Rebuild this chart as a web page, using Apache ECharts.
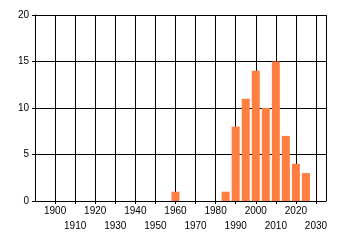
<!DOCTYPE html>
<html><head><meta charset="utf-8">
<script src="https://cdn.jsdelivr.net/npm/echarts@6/dist/echarts.min.js"></script>
<style>html,body{margin:0;padding:0;background:#fff}#c{width:340px;height:245px}</style>
</head><body><div id="c"></div>
<script>
var years = [1960, 1985, 1990, 1995, 2000, 2005, 2010, 2015, 2020, 2025];
var counts = [1, 1, 8, 11, 14, 10, 15, 7, 4, 3];
var xTicksRow1 = [1900, 1920, 1940, 1960, 1980, 2000, 2020];
var xTicksRow2 = [1910, 1930, 1950, 1970, 1990, 2010, 2030];
var yTicks = [0, 5, 10, 15, 20];

var font = {fontFamily: 'Liberation Sans', fontSize: 10, color: '#000', lineHeight: 12};
var chart = echarts.init(document.getElementById('c'), null, {renderer: 'canvas'});
var xBase = {type: 'value', min: 1890, max: 2035, interval: 10, position: 'bottom'};
chart.setOption({
  animation: false,
  grid: {left: 35, right: 14, top: 15, bottom: 44, containLabel: false},
  xAxis: [
    Object.assign({}, xBase, {
      axisLine: {show: true, onZero: false, lineStyle: {color: '#000', width: 1}},
      axisTick: {show: true, length: 3, lineStyle: {color: '#000'}},
      splitLine: {show: true, lineStyle: {color: '#000', width: 1}},
      axisLabel: Object.assign({}, font, {margin: 4, showMaxLabel: false, showMinLabel: false,
        formatter: function (v) { return xTicksRow1.indexOf(v) >= 0 ? String(v) : ''; }})
    }),
    Object.assign({}, xBase, {
      axisLine: {show: false}, axisTick: {show: false}, splitLine: {show: false},
      axisLabel: Object.assign({}, font, {margin: 19, showMaxLabel: false, showMinLabel: false,
        formatter: function (v) { return xTicksRow2.indexOf(v) >= 0 ? String(v) : ''; }})
    })
  ],
  yAxis: {
    type: 'value', min: yTicks[0], max: yTicks[yTicks.length - 1], interval: 5,
    axisLine: {show: true, lineStyle: {color: '#000', width: 1}},
    axisTick: {show: true, length: 3, lineStyle: {color: '#000'}},
    splitLine: {show: true, lineStyle: {color: '#000', width: 1}},
    axisLabel: Object.assign({}, font, {margin: 6})
  },
  series: [{
    type: 'bar', xAxisIndex: 0, barWidth: 8,
    itemStyle: {color: '#ff7f42'},
    data: years.map(function (y, i) { return [y, counts[i]]; })
  }]
});
</script></body></html>
